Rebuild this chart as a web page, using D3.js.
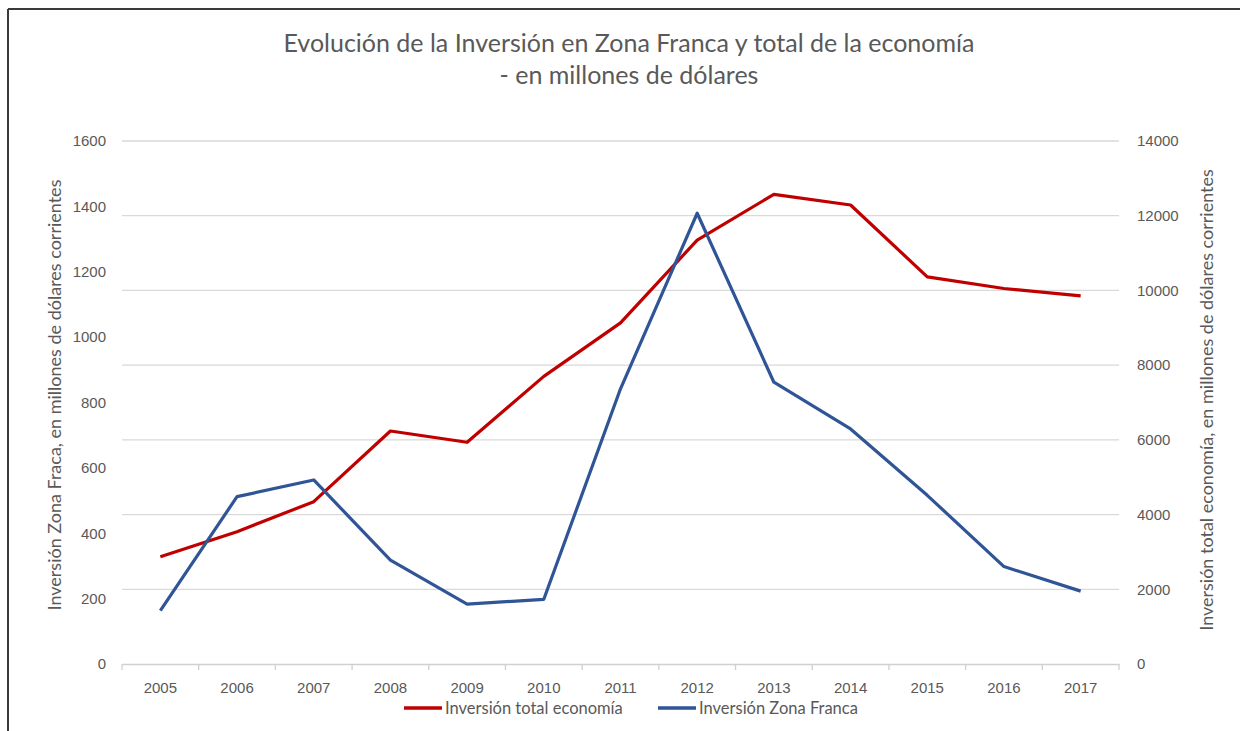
<!DOCTYPE html>
<meta charset="utf-8">
<html>
<head>
<style>
  body { margin: 0; background: #fff; }
  svg { display: block; font-family: Lato, "Open Sans", sans-serif; }
  .tick text { fill: #595959; font-size: 15px; }
  .legend text { fill: #595959; font-size: 16.5px; }
</style>
</head>
<body>
<script src="https://cdn.jsdelivr.net/npm/d3@7"></script>
<script>
// data
var years = ["2005","2006","2007","2008","2009","2010","2011","2012","2013","2014","2015","2016","2017"];
var zonaFranca = [163, 512, 563, 318, 183, 198, 842, 1379, 862, 719, 516, 298, 223];
var totalEconomia = [2873, 3542, 4345, 6237, 5935, 7700, 9130, 11347, 12572, 12286, 10364, 10051, 9854];
var leftTicks = [0, 200, 400, 600, 800, 1000, 1200, 1400, 1600];
var rightTicks = [0, 2000, 4000, 6000, 8000, 10000, 12000, 14000];

var W = 1240, H = 731;
var plotLeft = 122, plotRight = 1119, plotTop = 141, plotBottom = 664;
var red = "#c00000", blue = "#2f5597", grey = "#595959";

var svg = d3.select("body").append("svg")
    .attr("width", W)
    .attr("height", H);

// frame of the screenshot (top and left edge)
svg.append("line").attr("x1", 8).attr("x2", W).attr("y1", 9).attr("y2", 9)
    .attr("stroke", "#3a3a3a").attr("stroke-width", 2);
svg.append("line").attr("x1", 8).attr("x2", 8).attr("y1", 9).attr("y2", H)
    .attr("stroke", "#3a3a3a").attr("stroke-width", 2);

var x = d3.scaleBand().domain(years).range([plotLeft, plotRight]);
var yL = d3.scaleLinear().domain([0, 1600]).range([plotBottom, plotTop]);
var yR = d3.scaleLinear().domain([0, 14000]).range([plotBottom, plotTop]);

// title
var title = svg.append("text")
    .attr("text-anchor", "middle")
    .style("fill", grey)
    .style("font-size", "25px");
title.append("tspan").attr("x", 629).attr("y", 52)
    .text("Evolución de la Inversión en Zona Franca y total de la economía");
title.append("tspan").attr("x", 629).attr("y", 84)
    .text("- en millones de dólares");

// gridlines follow the right axis
svg.append("g")
  .selectAll("line")
  .data(rightTicks.filter(function(d) { return d > 0; }))
  .enter().append("line")
    .attr("x1", plotLeft).attr("x2", plotRight)
    .attr("y1", function(d) { return yR(d); })
    .attr("y2", function(d) { return yR(d); })
    .attr("stroke", "#d9d9d9")
    .attr("stroke-width", 1.3);

// left axis labels
var gL = svg.append("g")
    .attr("transform", "translate(" + (plotLeft - 6) + ",0)")
    .call(d3.axisLeft(yL).tickValues(leftTicks).tickSize(0).tickPadding(10).tickFormat(d3.format("d")));
gL.select(".domain").remove();

// right axis labels
var gR = svg.append("g")
    .attr("transform", "translate(" + (plotRight + 8) + ",0)")
    .call(d3.axisRight(yR).tickValues(rightTicks).tickSize(0).tickPadding(10).tickFormat(d3.format("d")));
gR.select(".domain").remove();

// bottom axis
var gX = svg.append("g")
    .attr("transform", "translate(0," + plotBottom + ")")
    .call(d3.axisBottom(x).tickSize(0).tickPadding(18));
gX.select(".domain").attr("stroke", "#d0d0d0").attr("stroke-width", 1.3);

var bounds = years.map(function(d) { return x(d); }).concat([x.range()[1]]);
gX.selectAll(".sep")
  .data(bounds)
  .enter().append("line")
    .attr("class", "sep")
    .attr("x1", function(d) { return d; }).attr("x2", function(d) { return d; })
    .attr("y1", 0).attr("y2", 6)
    .attr("stroke", "#d0d0d0").attr("stroke-width", 1.3);

// axis titles
svg.append("text")
    .attr("transform", "translate(61,395) rotate(-90)")
    .attr("text-anchor", "middle")
    .style("fill", grey).style("font-size", "18px")
    .text("Inversión Zona Fraca, en millones de dólares corrientes");

svg.append("text")
    .attr("transform", "translate(1213,400) rotate(-90)")
    .attr("text-anchor", "middle")
    .style("fill", grey).style("font-size", "18px")
    .text("Inversión total economía, en millones de dólares corrientes");

// lines
var cx = function(d, i) { return x(years[i]) + x.bandwidth() / 2; };

var lineR = d3.line()
    .x(cx)
    .y(function(d) { return yR(d); });
var lineL = d3.line()
    .x(cx)
    .y(function(d) { return yL(d); });

svg.append("path")
    .datum(totalEconomia)
    .attr("fill", "none")
    .attr("stroke", red)
    .attr("stroke-width", 3.2)
    .attr("stroke-linejoin", "round")
    .attr("d", lineR);

svg.append("path")
    .datum(zonaFranca)
    .attr("fill", "none")
    .attr("stroke", blue)
    .attr("stroke-width", 3.2)
    .attr("stroke-linejoin", "round")
    .attr("d", lineL);

// legend
var legendItems = [
  {name: "Inversión total economía", color: red, x: 404},
  {name: "Inversión Zona Franca", color: blue, x: 658}
];
var lg = svg.append("g").attr("class", "legend")
  .selectAll("g")
  .data(legendItems)
  .enter().append("g")
    .attr("transform", function(d) { return "translate(" + d.x + ",708)"; });
lg.append("line")
    .attr("x1", 0).attr("x2", 38)
    .attr("stroke", function(d) { return d.color; })
    .attr("stroke-width", 3.5);
lg.append("text")
    .attr("x", 41).attr("y", 5.5)
    .text(function(d) { return d.name; });
</script>
</body>
</html>
